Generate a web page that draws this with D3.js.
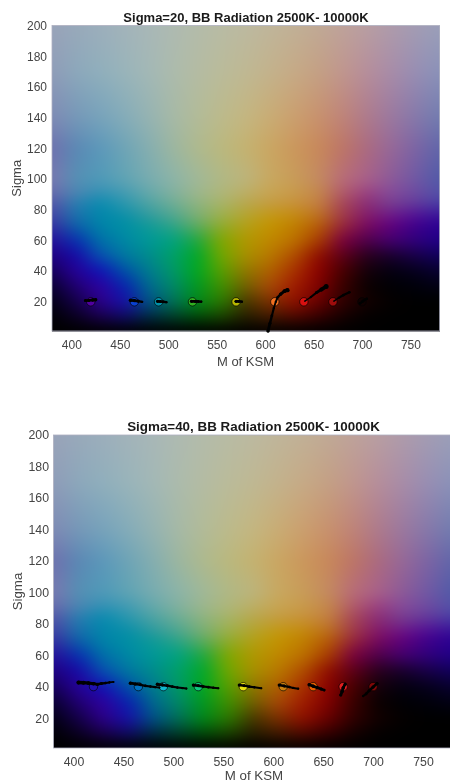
<!DOCTYPE html>
<html lang="en">
<head>
    <meta charset="UTF-8">
    <title>BB Radiation</title>
    <script src="https://d3js.org/d3.v7.min.js"></script>
    <style>
        html, body { margin: 0; padding: 0; background: #fff; overflow: hidden; }
        svg { display: block; filter: blur(0.45px); }
        text { font-family: "Liberation Sans", Arial, sans-serif; }
    </style>
</head>
<body>
    <svg id="chart" width="450" height="782"></svg>
    <script>
        // colour field, one list per sigma level
        const mGrid = [380, 405, 430, 455, 480, 505, 530, 555, 580, 605, 630, 655, 680, 705, 730, 755, 780];
        const sigmaGrid = [200, 170, 140, 120, 100, 90, 85, 75, 70, 60, 50, 40, 30, 20, 10, 1];
        const row200 = ["#99a3b9","#98a9ba","#9caebb","#a2b3ba","#a8b7b7","#aebab1","#b3bbaa","#b8bba4","#bcb9a0","#bfb59a","#c1b096","#c0a995","#bea29a","#b89ea2","#ae9bab","#a39cb3","#9a9fb9"];
        const row170 = ["#8f9cb8","#8ca8bb","#90afbc","#99b4ba","#a3b8b6","#acbbac","#b4bba3","#babb9a","#bfb893","#c3b28c","#c6aa86","#c4a084","#c0968e","#b68e9b","#a88ca8","#988eb3","#8a92b9"];
        const row140 = ["#7f8ab4","#7598b8","#77a3bb","#84acb9","#95b3b2","#a6b9a6","#b2bb98","#bcba8b","#c4b680","#c9ac74","#cb9f6e","#c8916d","#bf8378","#ae7a8c","#9b789f","#8678aa","#717cb0"];
        const row120 = ["#6f70ae","#5a88b4","#5c98ba","#6ea4b6","#85aeb0","#9cb6a0","#aeb98e","#bab87e","#c4b270","#caa662","#cb975c","#c8885a","#bd7566","#ab6a80","#966898","#7c64a4","#6066aa"];
        const row100 = ["#7a78b0","#5590b4","#4f9ab8","#60a4b4","#78acb0","#8cb4a8","#a0b898","#b0b885","#bcb47c","#c8a860","#c89c58","#c48a60","#b86c78","#a8608a","#8c5a98","#7058a4","#505aa8"];
        const row90 = ["#6868ac","#4a84b2","#2e90b4","#3f9ab2","#62a8aa","#80b09e","#9cb68c","#aeb678","#bcae62","#c8a450","#c89a48","#c48648","#b05868","#983c80","#84489a","#6c48a0","#5250a8"];
        const row85 = ["#5a55a8","#2a80b0","#0a8cb0","#2e98ae","#50a4a4","#70ae96","#90b482","#a8b46a","#b8a850","#c49c44","#c8923c","#c48044","#a84858","#8c3078","#784090","#643c9c","#4840a6"];
        const row75 = ["#4440a4","#1a6eac","#0086aa","#088ea8","#2c9a9e","#4ca690","#78ae72","#9cb048","#b4a42c","#c49810","#c48a0c","#bc6e1c","#a03848","#821868","#6c1488","#500c94","#361098"];
        const row70 = ["#3a30a0","#0d62a8","#0084a8","#0090a4","#109a98","#30a488","#60ac60","#90ac30","#b4a018","#c49400","#c08000","#b85c08","#982838","#780a60","#60007c","#40008c","#2a0094"];
        const row60 = ["#28109a","#0830b0","#0070a8","#0088a4","#009898","#00a280","#20a840","#80a800","#b09800","#c08800","#bc7000","#a83c00","#7a0040","#50004c","#440070","#30007c","#200088"];
        const row50 = ["#200080","#1808a8","#0850b0","#0078a0","#008c8c","#00a068","#00a828","#70a800","#a89000","#b87800","#b04c00","#900c00","#5c0018","#28001c","#18002c","#180048","#10005c"];
        const row40 = ["#150058","#280098","#1010b8","#0050a8","#007c90","#009868","#00a820","#58a000","#907800","#b06000","#a83000","#8c0000","#480000","#14000a","#040010","#05001c","#080030"];
        const row30 = ["#0a0030","#200070","#3000a0","#0820b0","#006890","#008868","#009820","#409000","#706000","#a84808","#a01c00","#800000","#380000","#0a0000","#000004","#00000a","#010014"];
        const row20 = ["#030015","#140048","#2c0088","#1810a8","#005088","#007058","#008818","#2c7800","#483800","#7c3000","#901000","#680000","#300000","#120000","#040000","#000000","#000000"];
        const row10 = ["#000005","#0a0020","#180048","#100a60","#002840","#003c28","#004808","#184000","#241c00","#3e1800","#4c0800","#340000","#140000","#030000","#000000","#000000","#000000"];
        const row1 = ["#000000","#000000","#000000","#000000","#000000","#000000","#000000","#000000","#000000","#000000","#000000","#000000","#000000","#000000","#000000","#000000","#000000"];
        const colorRows = [row200, row170, row140, row120, row100, row90, row85, row75, row70, row60, row50, row40, row30, row20, row10, row1];

        const xTicks = [400, 450, 500, 550, 600, 650, 700, 750];
        const yTicks = [20, 40, 60, 80, 100, 120, 140, 160, 180, 200];

        // LED centres and colours
        const centreM = [420, 465, 490, 525, 570, 610, 640, 670, 700];
        const topColors = ["#5000a0", "#0a40d0", "#0090a8", "#30b020", "#b8b800", "#f07020", "#d81010", "#a00c0c", "#100000"];
        const bottomColors = ["#2010b0", "#0070c0", "#10b8d0", "#10c880", "#e8e010", "#c88010", "#e86000", "#e02020", "#800808"];

        // matched [M, sigma] as colour temperature goes 2500K - 10000K
        const topTrails = [
            [[414.5, 20.8], [418, 20.9], [422, 21.2], [425, 21.4]],
            [[461, 21], [465, 20.8], [469, 20.4], [473, 20]],
            [[489, 20.3], [492, 20.2], [495, 20], [498, 19.8]],
            [[524, 20.3], [528, 20.3], [531, 20.2], [534, 20.1]],
            [[570, 20.3], [573, 20.3], [576, 20.1]],
            [[603, 1], [605, 6], [607, 11], [609, 16], [611, 20], [613, 23], [616, 25], [620, 27], [623, 27.6]],
            [[641, 20.5], [647, 23], [653, 26], [658, 28], [663, 30]],
            [[671, 20.5], [676, 22.6], [681, 24.4], [687, 26.2]],
            [[698, 19], [701, 20.5], [705, 22]]
        ];
        const bottomTrails = [
            [[405, 42.6], [410, 42.5], [415, 42.3], [420, 41.9], [424, 41.5], [428, 42], [432, 42.3], [436, 42.7], [440, 43]],
            [[457, 42.2], [462, 41.7], [467, 41.2], [472, 40.5], [477, 40.1], [482, 39.7], [486, 39.4]],
            [[484, 41.5], [489, 41.1], [494, 40.6], [499, 40], [504, 39.5], [509, 39.1], [513, 38.8]],
            [[520, 41], [525, 40.6], [530, 40.1], [535, 39.7], [540, 39.3], [545, 39]],
            [[566, 41], [571, 40.6], [576, 40], [581, 39.6], [588, 39]],
            [[606, 41], [611, 40.4], [616, 39.8], [620, 39.2], [625, 38.7]],
            [[636, 41.2], [640, 40.3], [644, 39.4], [648, 38.5], [651, 37.8]],
            [[672, 41.6], [670, 39.2], [669, 37], [667.6, 34.7]],
            [[704, 42], [700, 39.8], [696, 37.4], [693, 35.4], [690, 34]]
        ];

        // dot radius at start, middle and end of each trail
        const topRadii = [[1.5, 1.6, 1.8], [1.7, 1.6, 1.2], [1.6, 1.5, 1.2], [1.6, 1.5, 1.2], [1.6, 1.5, 1.2],
            [1.7, 1.0, 2.2], [0.6, 1.4, 2.5], [0.6, 1.3, 1.3], [1.3, 1.5, 1.3]];
        const bottomRadii = [[2.1, 1.6, 1.0], [1.7, 1.3, 1.1], [1.7, 1.3, 1.1], [1.6, 1.3, 1.1], [1.6, 1.3, 1.1],
            [1.6, 1.3, 1.1], [1.7, 1.6, 1.4], [1.6, 1.7, 1.6], [1.6, 1.5, 1.1]];

        const svg = d3.select("#chart");

        const colMap = d3.scaleLinear().domain(mGrid).range(d3.range(mGrid.length)).clamp(true);
        const rowMap = d3.scaleLinear().domain(sigmaGrid).range(d3.range(sigmaGrid.length)).clamp(true);
        const parsedRows = colorRows.map(r => r.map(c => d3.rgb(c)));

        const fieldAt = (m, s) => {
            const cf = colMap(m), rf = rowMap(s);
            const c0 = Math.min(Math.floor(cf), mGrid.length - 2), r0 = Math.min(Math.floor(rf), sigmaGrid.length - 2);
            const u = cf - c0, v = rf - r0;
            const a = parsedRows[r0][c0], b = parsedRows[r0][c0 + 1], c = parsedRows[r0 + 1][c0], d = parsedRows[r0 + 1][c0 + 1];
            const mix = k => (a[k] * (1 - u) + b[k] * u) * (1 - v) + (c[k] * (1 - u) + d[k] * u) * v;
            return [mix("r"), mix("g"), mix("b")];
        };

        const fieldImage = (x, y) => {
            const w = Math.ceil(x.range()[1] - x.range()[0]), h = Math.ceil(y.range()[0] - y.range()[1]);
            const channels = [0, 1, 2].map(() => new Float32Array(w * h));
            for (let j = 0; j < h; j++) {
                for (let i = 0; i < w; i++) {
                    const rgb = fieldAt(x.invert(x.range()[0] + i + 0.5), y.invert(y.range()[1] + j + 0.5));
                    channels.forEach((ch, k) => { ch[j * w + i] = rgb[k]; });
                }
            }
            // grid is coarse, soften the joins between rows and columns
            channels.forEach(ch => d3.blur2({data: ch, width: w, height: h}, 6, 5));

            const canvas = document.createElement("canvas");
            canvas.width = w;
            canvas.height = h;
            const ctx = canvas.getContext("2d");
            const img = ctx.createImageData(w, h);
            for (let p = 0; p < w * h; p++) {
                img.data[p * 4] = channels[0][p];
                img.data[p * 4 + 1] = channels[1][p];
                img.data[p * 4 + 2] = channels[2][p];
                img.data[p * 4 + 3] = 255;
            }
            ctx.putImageData(img, 0, 0);
            return canvas.toDataURL();
        };

        const drawPanel = (p) => {
            const x = d3.scaleLinear().domain([380, 780]).range([p.left, p.right]);
            const y = d3.scaleLinear().domain([1, 200]).range([p.bottom, p.top]);
            const g = svg.append("g");

            g.append("image")
                .attr("x", p.left).attr("y", p.top)
                .attr("width", Math.ceil(p.right - p.left)).attr("height", Math.ceil(p.bottom - p.top))
                .attr("preserveAspectRatio", "none")
                .attr("href", fieldImage(x, y));

            g.append("rect")
                .attr("x", p.left).attr("y", p.top)
                .attr("width", p.right - p.left).attr("height", p.bottom - p.top)
                .attr("fill", "none").attr("stroke", "#aeb0c0").attr("stroke-width", 0.8);

            // marker rings first, trails go over them
            g.selectAll("circle.led").data(centreM).join("circle")
                .attr("class", "led")
                .attr("cx", d => x(d))
                .attr("cy", y(p.sigma))
                .attr("r", 4.2)
                .attr("fill", (d, i) => p.colors[i])
                .attr("stroke", "#000")
                .attr("stroke-opacity", 0.8)
                .attr("stroke-width", 0.8);

            p.trails.forEach((trail, k) => {
                const radius = d3.scaleLinear().domain([0, 0.5, 1]).range(p.radii[k]);
                const steps = d3.pairs(trail);
                const tg = g.append("g").attr("class", "trail");
                tg.selectAll("line").data(steps).join("line")
                    .attr("x1", d => x(d[0][0])).attr("y1", d => y(d[0][1]))
                    .attr("x2", d => x(d[1][0])).attr("y2", d => y(d[1][1]))
                    .attr("stroke", "#000")
                    .attr("stroke-linecap", "round")
                    .attr("stroke-width", (d, i) => 1.7 * radius((i + 0.5) / steps.length));
                tg.selectAll("circle").data(trail).join("circle")
                    .attr("cx", d => x(d[0])).attr("cy", d => y(d[1]))
                    .attr("r", (d, i) => radius(i / (trail.length - 1)))
                    .attr("fill", "#000");
            });

            const axisColor = "#454545";
            const xAxis = g.append("g")
                .attr("transform", `translate(0,${p.bottom})`)
                .call(d3.axisBottom(x).tickValues(xTicks).tickSize(0).tickPadding(p.pad));
            const yAxis = g.append("g")
                .attr("transform", `translate(${p.left},0)`)
                .call(d3.axisLeft(y).tickValues(yTicks).tickSize(0).tickPadding(p.yPad));
            [xAxis, yAxis].forEach(a => {
                a.select(".domain").remove();
                a.selectAll("text").attr("fill", axisColor).style("font-size", p.tick + "px").style("font-family", '"Liberation Sans", Arial, sans-serif');
            });

            g.append("text")
                .attr("x", p.titleX).attr("y", p.top - 4)
                .attr("text-anchor", "middle")
                .attr("font-weight", "bold").attr("font-size", p.titleSize).attr("fill", "#1a1a1a")
                .text(p.title);
            g.append("text")
                .attr("x", p.xLabelX).attr("y", p.xLabelY)
                .attr("text-anchor", "middle")
                .attr("font-size", p.label).attr("fill", axisColor)
                .text("M of KSM");
            g.append("text")
                .attr("transform", `translate(${p.yLabelX},${(p.top + p.bottom) / 2}) rotate(-90)`)
                .attr("text-anchor", "middle")
                .attr("font-size", p.label).attr("fill", axisColor)
                .text("Sigma");
        };

        drawPanel({
            left: 52, right: 439.5, top: 25.5, bottom: 331,
            sigma: 20, colors: topColors, trails: topTrails, radii: topRadii,
            title: "Sigma=20, BB Radiation 2500K- 10000K", titleSize: 13, titleX: 246,
            tick: 12, label: 13, pad: 9, yPad: 5, xLabelX: 245.5, xLabelY: 366, yLabelX: 21
        });
        drawPanel({
            left: 53.5, right: 453, top: 435, bottom: 748,
            sigma: 40, colors: bottomColors, trails: bottomTrails, radii: bottomRadii,
            title: "Sigma=40, BB Radiation 2500K- 10000K", titleSize: 13.4, titleX: 253.5,
            tick: 12.3, label: 13.3, pad: 9, yPad: 4.5, xLabelX: 254, xLabelY: 780, yLabelX: 22
        });
    </script>
</body>
</html>
